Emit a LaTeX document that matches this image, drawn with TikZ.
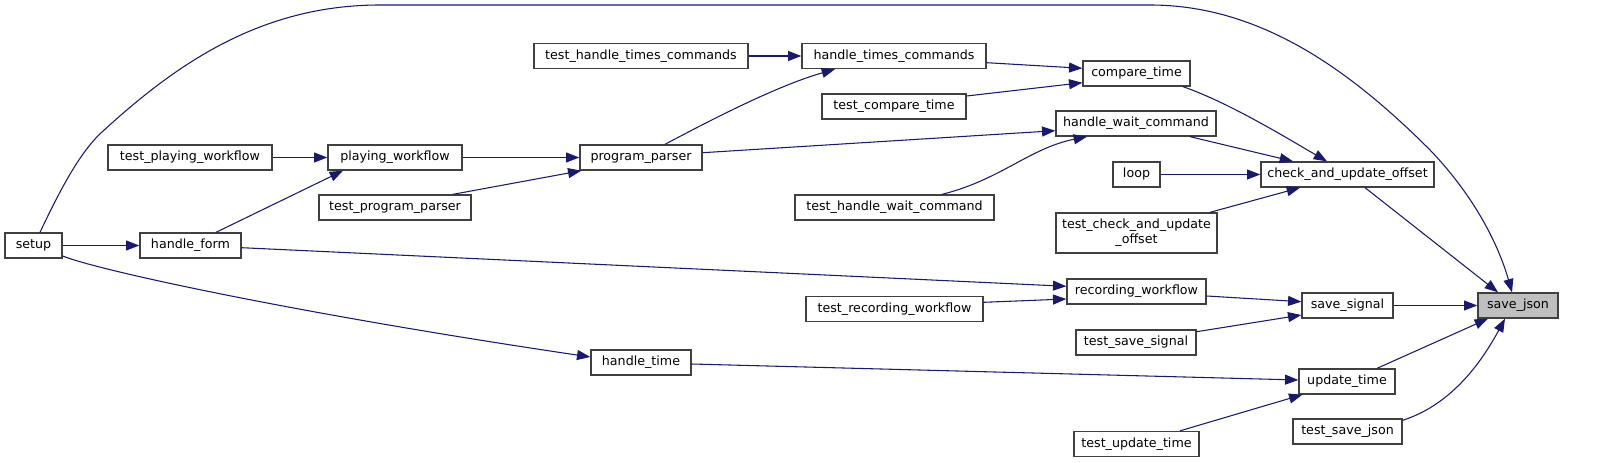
\documentclass[tikz,border=0pt]{standalone}
\usepackage{fontspec}
\setmainfont{DejaVu Sans}
\usetikzlibrary{arrows.meta,calc}
\definecolor{edgec}{HTML}{191970}
\definecolor{boxc}{HTML}{404040}
\definecolor{hic}{HTML}{BFBFBF}
\begin{document}
\begin{tikzpicture}[x=0.75pt,y=-0.75pt,
  base/.style={draw=boxc, line width=1pt, fill=white, inner sep=0pt, text=black,
    font=\fontsize{9.5}{11.3}\selectfont},
  box/.style={base, minimum height={25*0.75pt}, text height=6.9pt, text depth=2.1pt},
  box2/.style={base, align=center, minimum height={40*0.75pt}},
  bw/.style={minimum width={#1*0.75pt}},
  e/.style={draw=edgec, line width=0.8pt, -{Triangle[length=10pt,width=7.5pt]}, color=edgec}]
\useasboundingbox (0,0) rectangle (1608,463);

% nodes
\node[box,bw=57] (setup) at (33.5,245.5) {setup};
\node[box,bw=101] (handle_form) at (190.5,245.5) {handle\_form};
\node[box,bw=164] (test_playing_workflow) at (190,157.5) {test\_playing\_workflow};
\node[box,bw=134] (playing_workflow) at (395,157.5) {playing\_workflow};
\node[box,bw=152] (test_program_parser) at (395,207.5) {test\_program\_parser};
\node[box,bw=122] (program_parser) at (641,157.5) {program\_parser};
\node[box,bw=214] (test_handle_times_commands) at (641,56) {test\_handle\_times\_commands};
\node[box,bw=184] (handle_times_commands) at (894,56) {handle\_times\_commands};
\node[box,bw=144] (test_compare_time) at (894,106.5) {test\_compare\_time};
\node[box,bw=199] (test_handle_wait_command) at (894.5,207.5) {test\_handle\_wait\_command};
\node[box,bw=177] (test_recording_workflow) at (894.5,309) {test\_recording\_workflow};
\node[box,bw=100] (handle_time) at (641,362.5) {handle\_time};
\node[box,bw=107] (compare_time) at (1136.5,73.5) {compare\_time};
\node[box,bw=160] (handle_wait_command) at (1136,123.5) {handle\_wait\_command};
\node[box,bw=47] (loop) at (1136.5,174.5) {loop};
\node[box2,bw=161] (test_check_and_update_offset) at (1136.5,233) {test\_check\_and\_update\\\_offset};
\node[box,bw=139] (recording_workflow) at (1136.5,291.5) {recording\_workflow};
\node[box,bw=120] (test_save_signal) at (1136,342.5) {test\_save\_signal};
\node[box,bw=125] (test_update_time) at (1136.5,444) {test\_update\_time};
\node[box,bw=173] (check_and_update_offset) at (1347.5,174.5) {check\_and\_update\_offset};
\node[box,bw=91] (save_signal) at (1347.5,305.5) {save\_signal};
\node[box,bw=96] (update_time) at (1347,381.5) {update\_time};
\node[box,bw=109] (test_save_json) at (1347.5,431.5) {test\_save\_json};
\node[box,bw=80,fill=hic] (save_json) at (1518,305.5) {save\_json};

% edges
\draw[e] (setup.east) -- (handle_form.west);
\draw[e] ($(handle_form.north)+(25.5,0)$) -- ($(playing_workflow.south)+(-52,0)$);
\draw[e] (test_playing_workflow.east) -- (playing_workflow.west);
\draw[e] (playing_workflow.east) -- (program_parser.west);
\draw[e] ($(test_program_parser.north)+(58,0)$) -- ($(program_parser.south west)+(2,0)$);
\draw[e] ($(program_parser.north)+(24,0)$) .. controls (720,115) and (780,85) .. ($(handle_times_commands.south)+(-59,0)$);
\draw[e] (test_handle_times_commands.east) -- (handle_times_commands.west);
\draw[e] ($(handle_times_commands.east)+(0,6.7)$) -- ($(compare_time.west)+(0,-5.2)$);
\draw[e] ($(test_compare_time.east)+(0,-10.5)$) -- ($(compare_time.west)+(0,9.2)$);
\draw[e] ($(program_parser.east)+(0,-4.8)$) -- ($(handle_wait_command.west)+(0,7.2)$);
\draw[e] ($(test_handle_wait_command.north)+(47.5,0)$) .. controls (1000,180) and (1030,148) .. ($(handle_wait_command.south)+(-49,0)$);
\draw[e] ($(compare_time.south)+(46.5,0)$) .. controls (1230,103) and (1290,140) .. ($(check_and_update_offset.north)+(-20.5,0)$);
\draw[e] ($(handle_wait_command.south)+(54,0)$) -- ($(check_and_update_offset.north)+(-54.5,0)$);
\draw[e] (loop.east) -- (check_and_update_offset.west);
\draw[e] ($(test_check_and_update_offset.north)+(73.5,0)$) -- ($(check_and_update_offset.south)+(-47.5,0)$);
\draw[e] ($(check_and_update_offset.south)+(17.5,0)$) -- ($(save_json.north)+(-20,0)$);
\draw[e] ($(setup.north)+(6.5,0)$) .. controls (60,190) and (80,152) .. (102,132)
   .. controls (175,65) and (260,5) .. (380,5) -- (1150,5)
   .. controls (1260,5) and (1350,70) .. (1430,150)
   .. controls (1478,200) and (1500,250) .. ($(save_json.north)+(-6,0)$);
\draw[e] ($(handle_form.east)+(0,2.2)$) -- ($(recording_workflow.west)+(0,-5.2)$);
\draw[e] ($(test_recording_workflow.east)+(0,-6.7)$) -- ($(recording_workflow.west)+(0,7.5)$);
\draw[e] ($(recording_workflow.east)+(0,4.5)$) -- ($(save_signal.west)+(0,-3.8)$);
\draw[e] ($(test_save_signal.east)+(0,-10.8)$) -- ($(save_signal.west)+(0,9.5)$);
\draw[e] (save_signal.east) -- (save_json.west);
\draw[e] ($(setup.east)+(0,10.5)$) .. controls (100,271) and (300,314) .. ($(handle_time.west)+(0,-5.5)$);
\draw[e] ($(handle_time.east)+(0,1.5)$) -- ($(update_time.west)+(0,-1.5)$);
\draw[e] ($(test_update_time.north)+(43.5,0)$) -- ($(update_time.south west)+(4,0)$);
\draw[e] ($(update_time.north)+(30,0)$) -- ($(save_json.south)+(-30,0)$);
\draw[e] ($(test_save_json.north east)+(0,2)$) .. controls (1450,405) and (1480,365) .. ($(save_json.south)+(-13,0)$);
\end{tikzpicture}
\end{document}
